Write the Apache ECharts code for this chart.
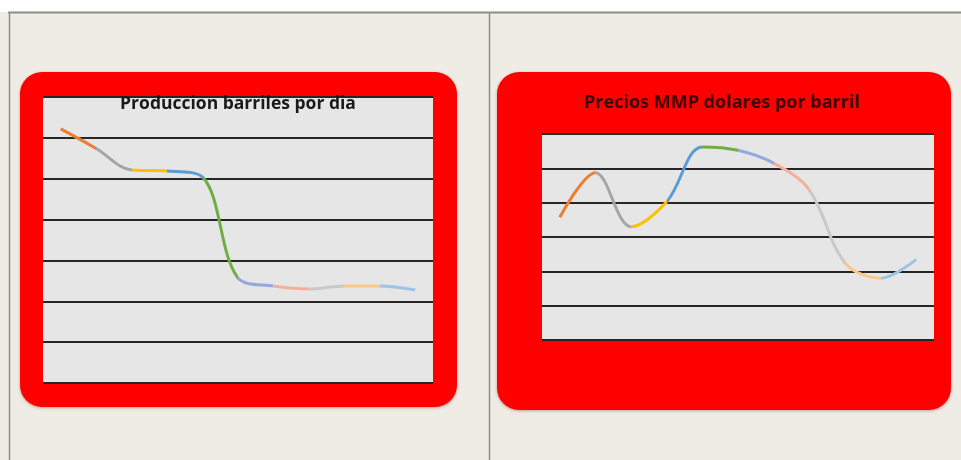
<!DOCTYPE html>
<html>
<head>
<meta charset="utf-8">
<script src="https://cdn.jsdelivr.net/npm/echarts@6/dist/echarts.min.js"></script>
<style>
html,body{margin:0;padding:0;background:#EEECE4;}
#c{width:961px;height:460px;}
</style>
</head>
<body>
<div id="c"></div>
<script>
// ---- data ----
const categories = ['1','2','3','4','5','6','7','8','9','10','11'];
const produccionBarriles = [3110, 2870, 2607, 2595, 2520, 1285, 1187, 1150, 1187, 1187, 1138];
const preciosMMP = [71.5, 97.5, 66.0, 80.5, 112.5, 110.5, 103.0, 87.5, 45.0, 36.0, 47.0];
const segmentColors = ['#ED7D31','#A5A5A5','#FFC000','#5B9BD5','#70AD47','#93A9DF','#F4B09B','#C9C9C9','#FAC98A','#9DC3E6'];
const tituloProduccion = 'Produccion barriles por dia';
const tituloPrecios = 'Precios MMP dolares por barril';

function pieces(){
  const p = [];
  for (let i = 0; i < segmentColors.length; i++) {
    const item = {color: segmentColors[i]};
    if (i > 0) item.gt = i;
    if (i < segmentColors.length - 1) item.lte = i + 1;
    p.push(item);
  }
  return p;
}

const chart = echarts.init(document.getElementById('c'));
const splitStyle = {show:true, lineStyle:{color:'#262626', width:2}};
const hiddenAxis = {axisLine:{show:false}, axisTick:{show:false}, axisLabel:{show:false}};

chart.setOption({
  backgroundColor:'#EEECE4',
  animation:false,
  graphic:[
    {type:'rect', z:-20, shape:{x:0,y:0,width:961,height:12}, style:{fill:'#ffffff'}},
    {type:'line', z:-19, shape:{x1:8,y1:12.5,x2:961,y2:12.5}, style:{stroke:'#8c8c8c', lineWidth:2}},
    {type:'line', z:-19, shape:{x1:9.5,y1:12,x2:9.5,y2:460}, style:{stroke:'#8c8c8c', lineWidth:1.5}},
    {type:'line', z:-19, shape:{x1:489.5,y1:12,x2:489.5,y2:460}, style:{stroke:'#8c8c8c', lineWidth:1.5}},
    {type:'rect', z:-10, shape:{x:20,y:72,width:437,height:335,r:22}, style:{fill:'#FF0000', shadowColor:'rgba(120,0,0,0.35)', shadowBlur:3, shadowOffsetY:1}},
    {type:'rect', z:-10, shape:{x:497,y:72,width:454,height:338,r:22}, style:{fill:'#FF0000', shadowColor:'rgba(120,0,0,0.35)', shadowBlur:3, shadowOffsetY:1}},
    {type:'text', z:50, x:238, y:104.5, style:{text:tituloProduccion, fill:'#1a1a1a', font:'bold 17.5px "Open Sans", sans-serif', textAlign:'center', textVerticalAlign:'middle'}},
    {type:'text', z:50, x:722, y:103, style:{text:tituloPrecios, fill:'#3c0303', font:'bold 18px "Open Sans", sans-serif', textAlign:'center', textVerticalAlign:'middle'}}
  ],
  grid:[
    {left:43, top:97, width:390, height:286, show:true, backgroundColor:'#E6E6E6', borderWidth:0},
    {left:542, top:134, width:392, height:206, show:true, backgroundColor:'#E6E6E6', borderWidth:0}
  ],
  xAxis:[
    Object.assign({type:'category', gridIndex:0, data:categories, boundaryGap:true}, hiddenAxis),
    Object.assign({type:'category', gridIndex:1, data:categories, boundaryGap:true}, hiddenAxis)
  ],
  yAxis:[
    Object.assign({type:'value', gridIndex:0, min:0, max:3500, interval:500, splitLine:splitStyle}, hiddenAxis),
    Object.assign({type:'value', gridIndex:1, min:0, max:120, interval:20, splitLine:splitStyle}, hiddenAxis)
  ],
  visualMap:[
    {type:'piecewise', show:false, dimension:0, seriesIndex:0, pieces:pieces()},
    {type:'piecewise', show:false, dimension:0, seriesIndex:1, pieces:pieces()}
  ],
  series:[
    {type:'line', xAxisIndex:0, yAxisIndex:0, data:produccionBarriles, smooth:0.35, showSymbol:false, lineStyle:{width:3}},
    {type:'line', xAxisIndex:1, yAxisIndex:1, data:preciosMMP, smooth:0.35, showSymbol:false, lineStyle:{width:3}}
  ]
});
</script>
</body>
</html>
